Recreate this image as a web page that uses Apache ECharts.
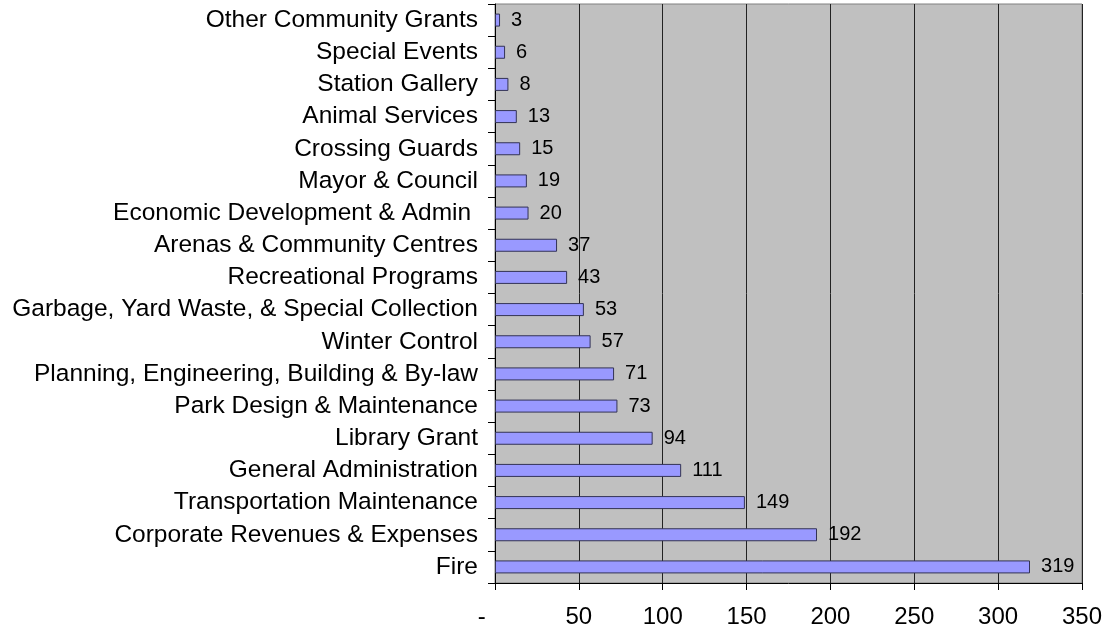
<!DOCTYPE html>
<html>
<head>
<meta charset="utf-8">
<script src="https://cdn.jsdelivr.net/npm/echarts@6/dist/echarts.min.js"></script>
<style>
  html, body { margin: 0; padding: 0; background: #ffffff; }
  #chart { width: 1107px; height: 629px; }
</style>
</head>
<body>
<div id="chart"></div>
<script>
// Departments, listed bottom to top as drawn on the category axis
const categories = [
  'Fire',
  'Corporate Revenues & Expenses',
  'Transportation Maintenance',
  'General Administration',
  'Library Grant',
  'Park Design & Maintenance',
  'Planning, Engineering, Building & By-law',
  'Winter Control',
  'Garbage, Yard Waste, & Special Collection',
  'Recreational Programs',
  'Arenas & Community Centres',
  'Economic Development & Admin ',
  'Mayor & Council',
  'Crossing Guards',
  'Animal Services',
  'Station Gallery',
  'Special Events',
  'Other Community Grants'
];

const values = [319, 192, 149, 111, 94, 73, 71, 57, 53, 43, 37, 20, 19, 15, 13, 8, 6, 3];

// Value axis ticks
const xMin = 0;
const xMax = 350;
const xStep = 50;

const font = 'Liberation Sans, Arial, sans-serif';

const chart = echarts.init(document.getElementById('chart'), null, { renderer: 'canvas' });

chart.setOption({
  animation: false,
  backgroundColor: '#ffffff',
  grid: {
    left: 495,
    right: 25,
    top: 4,
    bottom: 46,
    show: true,
    backgroundColor: '#c0c0c0',
    borderColor: '#808080',
    borderWidth: 1
  },
  xAxis: {
    type: 'value',
    min: xMin,
    max: xMax,
    interval: xStep,
    axisLine: { show: true, lineStyle: { color: '#000000', width: 1 } },
    axisTick: { show: true, inside: false, length: 7, lineStyle: { color: '#000000' } },
    splitLine: { show: true, lineStyle: { color: '#222222', width: 1 } },
    axisLabel: {
      color: '#000000',
      fontFamily: font,
      fontSize: 24,
      margin: 22,
      formatter: function (v) { return v === 0 ? '-    ' : String(v); }
    }
  },
  yAxis: {
    type: 'category',
    data: categories,
    axisLine: { show: true, lineStyle: { color: '#000000', width: 1 } },
    axisTick: { show: true, inside: false, length: 7, alignWithLabel: false, lineStyle: { color: '#000000' } },
    splitLine: { show: false },
    axisLabel: {
      color: '#000000',
      fontFamily: font,
      fontSize: 24.5,
      margin: 17,
      interval: 0
    }
  },
  series: [{
    type: 'bar',
    data: values,
    barWidth: 13,
    itemStyle: {
      color: '#9999ff',
      borderColor: '#333355',
      borderWidth: 1
    },
    label: {
      show: true,
      position: 'right',
      distance: 11,
      color: '#000000',
      fontFamily: font,
      fontSize: 20
    }
  }]
});
</script>
</body>
</html>
